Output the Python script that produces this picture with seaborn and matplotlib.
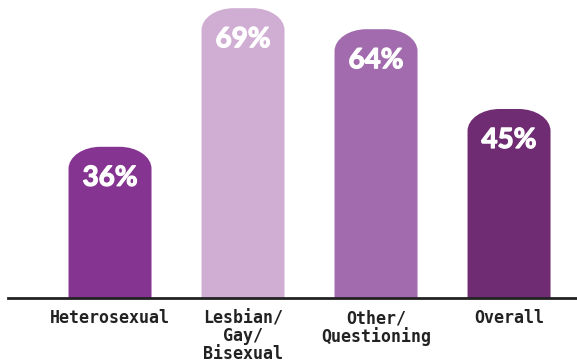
import matplotlib
matplotlib.use("Agg")
import matplotlib.pyplot as plt
import matplotlib.patheffects as pe
import seaborn as sns
import pandas as pd
from matplotlib.path import Path
from matplotlib.patches import PathPatch

categories = ["Heterosexual", "Lesbian/\nGay/\nBisexual", "Other/\nQuestioning", "Overall"]
values = [36, 69, 64, 45]
colors = ["#853591", "#D0AED3", "#A16BAE", "#6F2C72"]

df = pd.DataFrame({"group": categories, "pct": values})

sns.set_theme(style="white")
fig = plt.figure(figsize=(5.77, 3.63), dpi=100)
ax = fig.add_axes([8/577, 65/363, 569/577, 298/363])

sns.barplot(data=df, x="group", y="pct", hue="group", palette=colors,
            legend=False, width=0.624, ax=ax, saturation=1)

ax.set_ylim(0, 298/4.2)
ax.set_xlim(-0.767, 3.511)

px_x = 1/133.0
px_y = 1/4.2
rx = 32 * px_x
ry = 22 * px_y
k = 0.5523

for p in list(ax.patches):
    x0, w, h = p.get_x(), p.get_width(), p.get_height()
    fc = p.get_facecolor()
    p.set_visible(False)
    verts = [
        (x0, 0), (x0, h - ry),
        (x0, h - ry + k*ry), (x0 + rx - k*rx, h), (x0 + rx, h),
        (x0 + w - rx, h),
        (x0 + w - rx + k*rx, h), (x0 + w, h - ry + k*ry), (x0 + w, h - ry),
        (x0 + w, 0), (x0, 0)
    ]
    codes = [Path.MOVETO, Path.LINETO,
             Path.CURVE4, Path.CURVE4, Path.CURVE4,
             Path.LINETO,
             Path.CURVE4, Path.CURVE4, Path.CURVE4,
             Path.LINETO, Path.CLOSEPOLY]
    ax.add_patch(PathPatch(Path(verts, codes), facecolor=fc, edgecolor="none", zorder=2))
    ax.text(x0 + w/2, h - 31*px_y, f"{int(round(h))}%", ha="center", va="center",
            color="white", fontsize=20, fontweight="bold", family=["Lato", "DejaVu Sans"],
            zorder=3, path_effects=[pe.withStroke(linewidth=0.9, foreground="white")])

for s in ["top", "right", "left"]:
    ax.spines[s].set_visible(False)
ax.spines["bottom"].set_color("#222222")
ax.spines["bottom"].set_linewidth(2)
ax.set_yticks([])
ax.set_xlabel("")
ax.set_ylabel("")
ax.tick_params(axis="x", length=0, pad=8)
for lbl in ax.get_xticklabels():
    lbl.set_fontfamily(["DejaVu Sans Mono", "Liberation Mono"])
    lbl.set_fontweight("bold")
    lbl.set_fontsize(12)
    lbl.set_color("#222222")
    lbl.set_multialignment("center")
    lbl.set_linespacing(1.0)

fig.savefig("out.png", dpi=100)
